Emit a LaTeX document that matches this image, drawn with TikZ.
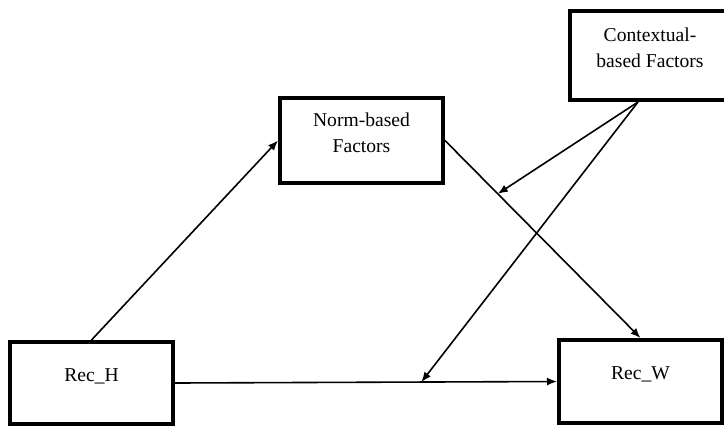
\documentclass[tikz,border=0pt]{standalone}
\usepackage{fontspec}
\setmainfont{Liberation Serif}
\usetikzlibrary{positioning,calc,arrows.meta}

\begin{document}
\begin{tikzpicture}[x=0.5pt, y=-0.5pt, >={Latex[length=5pt,width=4pt]}, every node/.style={font=\fontsize{9.8}{13}\selectfont},
    factorbox/.style={draw=black, line width=2pt, fill=white, align=center, minimum width=81.5pt, text depth=8pt},
    link/.style={->, line width=0.8pt}]
    \clip (0,0) rectangle (724,425);

    % Rec_H (en bas a gauche)
    \node[factorbox, minimum height=41pt] (rech) at (91.5,383) {Rec\_H};

    % Rec_W (en bas a droite)
    \node[factorbox, minimum height=41.5pt] (recw) at (640.5,381.5) {Rec\_W};

    % Norm-based Factors (milieu)
    \node[factorbox, minimum height=42.5pt] (norm) at (361.5,140.5) {Norm-based\\Factors};

    % Contextual-based Factors (en haut a droite)
    \node[factorbox, minimum width=80pt, minimum height=44.5pt] (context) at (650,55.5) {Contextual-\\based Factors};

    % points d'arrivee sur les chemins
    \coordinate (normpath) at ($(norm.east)!0.27!(recw.north)$);
    \coordinate (directpath) at ($(rech.east)!0.645!(recw.west)$);
    \coordinate (contextout) at ([xshift=-6]context.south);

    % Arrows
    \draw[link] (rech.north) -- (norm.west);
    \draw[link] (rech.east) -- (recw.west);
    \draw[link] (norm.east) -- (recw.north);
    \draw[link] (contextout) -- (normpath);
    \draw[link] (contextout) -- (directpath);
\end{tikzpicture}
\end{document}
